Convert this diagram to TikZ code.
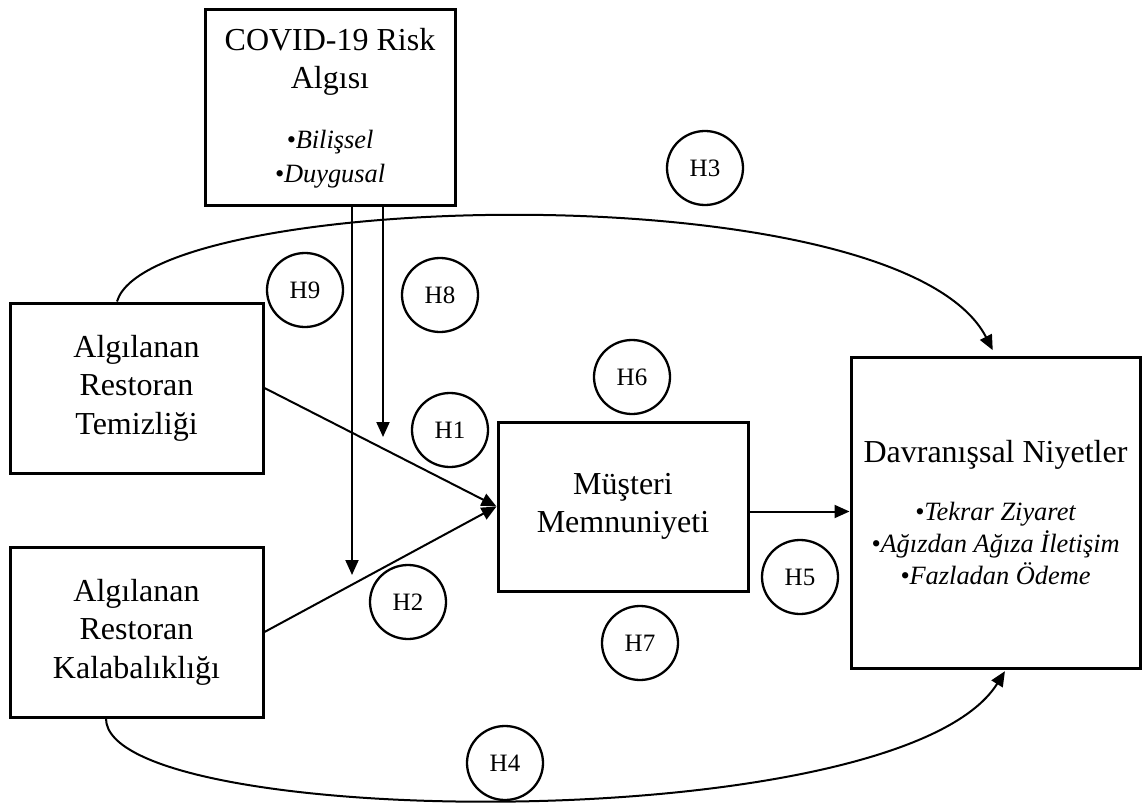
\documentclass[tikz,border=0pt]{standalone}
\usepackage{fontspec}
\setmainfont{Liberation Serif}
\usetikzlibrary{arrows.meta,shapes.geometric}
\newcommand{\ksub}{\fontsize{26.4}{32}\selectfont\itshape}
\tikzset{
kbox/.style={draw,line width=3pt,align=center,inner sep=0pt,font=\fontsize{32}{38.5}\selectfont},
hyp/.style={draw,ellipse,line width=2.3pt,minimum width=76pt,minimum height=74pt,inner sep=0pt,font=\fontsize{25}{30}\selectfont},
kline/.style={line width=2pt,-{Triangle[length=15pt,width=13pt]}}
}
\begin{document}
\begin{tikzpicture}[x=1pt,y=-1pt]
\useasboundingbox (0,0) rectangle (1143,805);
\node[kbox,minimum width=250pt,minimum height=196pt](risk) at (330,108){COVID-19 Risk\\Algısı\\[21.5pt]{\ksub •Bilişsel}\\[-4.5pt]{\ksub •Duygusal}};
\node[kbox,minimum width=253pt,minimum height=170pt](temiz) at (136.5,388){Algılanan\\Restoran\\Temizliği};
\node[kbox,minimum width=253pt,minimum height=170pt](kalab) at (136.5,632){Algılanan\\Restoran\\Kalabalıklığı};
\node[kbox,minimum width=250pt,minimum height=169pt](mem) at (623,506.5){Müşteri\\Memnuniyeti};
\node[kbox,minimum width=289pt,minimum height=311pt](niy) at (995.5,512.5){Davranışsal Niyetler\\[19.5pt]{\ksub •Tekrar Ziyaret}\\[-6.5pt]{\ksub •Ağızdan Ağıza İletişim}\\[-6.5pt]{\ksub •Fazladan Ödeme}};
\coordinate (m9) at (352,575);
\coordinate (m8) at (383,437);
\draw[kline](temiz.east)--(mem.west);
\draw[kline](kalab.east)--(mem.west);
\draw[kline]([yshift=-5pt]mem.east)--([yshift=-5pt]mem.east -| niy.west);
\draw[kline](risk.south -| m9)--(m9);
\draw[kline](risk.south -| m8)--(m8);
\draw[kline,shorten >=6pt]([xshift=-19.5pt]temiz.north) .. controls (150,190) and (900,170) .. (niy.north);
\draw[kline,shorten >=2pt]([xshift=-30.5pt]kalab.south) .. controls (106,830) and (900,840) .. ([xshift=10.5pt]niy.south);
\foreach \hn/\hx/\hy in {1/450/430,2/408/602,3/705/168,4/505/763,5/800/577,6/632/377,7/640/643,8/440/295,9/305/290}{\node[hyp](h\hn) at (\hx,\hy){H\hn};}
\end{tikzpicture}
\end{document}
